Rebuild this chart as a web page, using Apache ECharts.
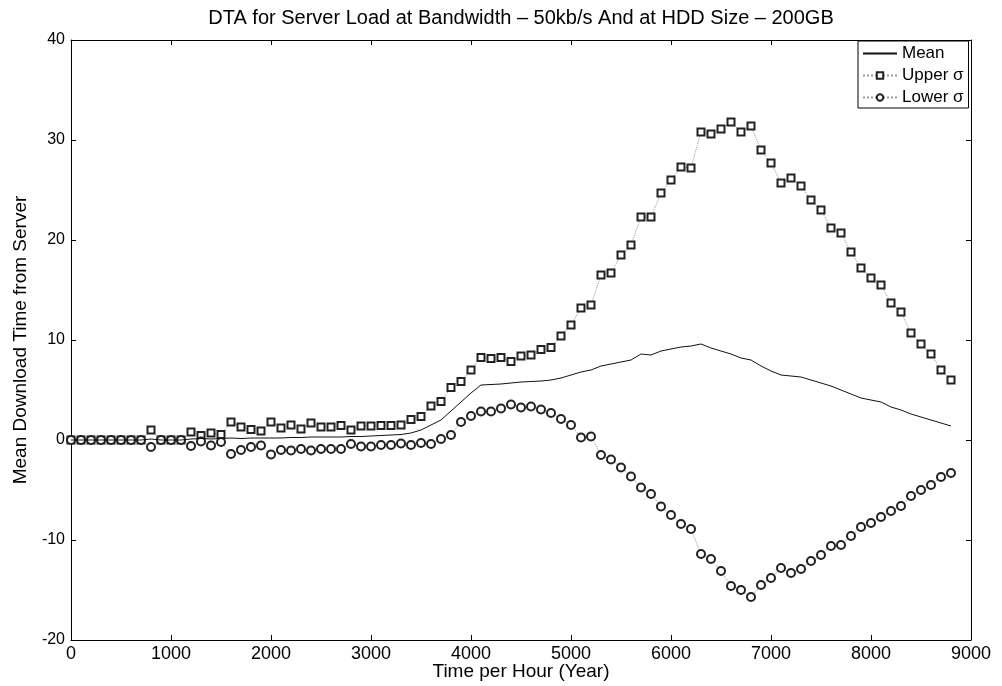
<!DOCTYPE html>
<html>
<head>
<meta charset="utf-8">
<title>DTA Server Load</title>
<script src="https://cdn.jsdelivr.net/npm/echarts@6/dist/echarts.min.js"></script>
<style>
  html, body { margin: 0; padding: 0; background: #fff; }
  #chart { width: 1002px; height: 686px; }
</style>
</head>
<body>
<div id="chart"></div>
<script>
// time axis (hours), sampled every 100 h
const hours = [
  0, 100, 200, 300, 400, 500, 600, 700, 800, 900,
  1000, 1100, 1200, 1300, 1400, 1500, 1600, 1700, 1800, 1900,
  2000, 2100, 2200, 2300, 2400, 2500, 2600, 2700, 2800, 2900,
  3000, 3100, 3200, 3300, 3400, 3500, 3600, 3700, 3800, 3900,
  4000, 4100, 4200, 4300, 4400, 4500, 4600, 4700, 4800, 4900,
  5000, 5100, 5200, 5300, 5400, 5500, 5600, 5700, 5800, 5900,
  6000, 6100, 6200, 6300, 6400, 6500, 6600, 6700, 6800, 6900,
  7000, 7100, 7200, 7300, 7400, 7500, 7600, 7700, 7800, 7900,
  8000, 8100, 8200, 8300, 8400, 8500, 8600, 8700, 8800
]

// mean download time
const meanVals = [
  0, 0, 0, 0, 0, 0, 0, 0, 0.1, 0,
  0, 0, 0.1, 0.15, 0.1, 0.15, 0.2, 0.15, 0.2, 0.2,
  0.2, 0.2, 0.25, 0.25, 0.3, 0.3, 0.3, 0.3, 0.35, 0.35,
  0.4, 0.45, 0.5, 0.55, 0.7, 1.0, 1.5, 2.0, 2.9, 3.8,
  4.7, 5.5, 5.55, 5.6, 5.7, 5.8, 5.85, 5.9, 6.0, 6.2,
  6.5, 6.8, 7.0, 7.4, 7.6, 7.8, 8.0, 8.6, 8.5, 8.9,
  9.1, 9.3, 9.4, 9.6, 9.2, 8.9, 8.6, 8.2, 8.0, 7.4,
  6.9, 6.5, 6.4, 6.3, 6.0, 5.7, 5.4, 5.0, 4.6, 4.2,
  4.0, 3.8, 3.3, 3.0, 2.6, 2.3, 2.0, 1.7, 1.4
]

// mean + sigma
const upperVals = [
  0, 0, 0, 0, 0, 0, 0, 0, 1.0, 0,
  0, 0, 0.8, 0.45, 0.7, 0.55, 1.8, 1.3, 1.05, 0.9,
  1.8, 1.2, 1.5, 1.1, 1.7, 1.3, 1.3, 1.45, 1.0, 1.4,
  1.4, 1.45, 1.45, 1.5, 2.05, 2.35, 3.4, 3.85, 5.25, 5.85,
  7.0, 8.25, 8.15, 8.25, 7.85, 8.4, 8.5, 9.05, 9.25, 10.4,
  11.5, 13.2, 13.5, 16.5, 16.7, 18.5, 19.5, 22.3, 22.3, 24.7,
  26.0, 27.3, 27.2, 30.8, 30.6, 31.1, 31.8, 30.8, 31.4, 29.0,
  27.7, 25.7, 26.2, 25.4, 24.0, 23.0, 21.2, 20.7, 18.8, 17.2,
  16.2, 15.5, 13.7, 12.8, 10.7, 9.6, 8.6, 7.0, 6.0
]

// mean - sigma
const lowerVals = [
  0, 0, 0, 0, 0, 0, 0, 0, -0.7, 0,
  0, 0, -0.6, -0.15, -0.55, -0.2, -1.4, -1.0, -0.7, -0.55,
  -1.45, -1.0, -1.05, -0.9, -1.05, -0.9, -0.9, -0.9, -0.4, -0.65,
  -0.65, -0.5, -0.5, -0.35, -0.5, -0.3, -0.4, 0.1, 0.5, 1.8,
  2.4, 2.85, 2.85, 3.15, 3.55, 3.25, 3.35, 3.05, 2.7, 2.1,
  1.5, 0.25, 0.35, -1.5, -1.95, -2.75, -3.65, -4.75, -5.4, -6.65,
  -7.5, -8.4, -8.9, -11.4, -11.9, -13.1, -14.6, -15.0, -15.7, -14.5,
  -13.8, -12.8, -13.3, -12.9, -12.1, -11.5, -10.6, -10.5, -9.6, -8.7,
  -8.3, -7.7, -7.1, -6.6, -5.6, -5.0, -4.5, -3.7, -3.3
]

const xTicks = [0, 9000, 1000]
const yTicks = [-20, 40, 10]

const font = 'Liberation Sans, Arial, Helvetica, sans-serif'
const pair = vals => hours.map((h, i) => [h, vals[i]])

const chart = echarts.init(document.getElementById('chart'), null, { renderer: 'canvas' })

// box-style axes with inward ticks on all four sides
const baseAxis = {
  type: 'value',
  axisLine: { show: true, onZero: false, lineStyle: { color: '#000', width: 1 } },
  axisTick: { show: true, inside: true, length: 5, lineStyle: { color: '#000' } },
  splitLine: { show: false }
}
const plain = v => String(v)

const option = {
  backgroundColor: '#fff',
  animation: false,
  title: {
    text: 'DTA for Server Load at Bandwidth \u2013 50kb/s And at HDD Size \u2013 200GB',
    left: 516,
    textAlign: 'center',
    top: 3,
    textStyle: { fontFamily: font, fontSize: 20, fontWeight: 'normal', color: '#000' }
  },
  grid: { left: 71, top: 40, width: 900, height: 600, containLabel: false, outerBoundsMode: 'none' },
  legend: {
    orient: 'vertical',
    left: 858,
    top: 41,
    padding: [4, 5, 2, 4],
    itemGap: 5,
    itemWidth: 34,
    itemHeight: 8,
    borderColor: '#000',
    borderWidth: 1,
    backgroundColor: '#fff',
    textStyle: { fontFamily: font, fontSize: 17, color: '#000' },
    data: [
      { name: 'Mean', itemStyle: { color: 'transparent', borderWidth: 0 } },
      'Upper \u03c3',
      'Lower \u03c3'
    ]
  },
  xAxis: [
    Object.assign({}, baseAxis, {
      position: 'bottom',
      min: xTicks[0], max: xTicks[1], interval: xTicks[2],
      name: 'Time per Hour (Year)',
      nameLocation: 'middle',
      nameGap: 22,
      nameMoveOverlap: false,
      nameTextStyle: { fontFamily: font, fontSize: 19, color: '#000' },
      axisLabel: { fontFamily: font, fontSize: 18, color: '#000', margin: 5, formatter: plain }
    }),
    Object.assign({}, baseAxis, {
      position: 'top',
      min: xTicks[0], max: xTicks[1], interval: xTicks[2],
      axisLabel: { show: false }
    })
  ],
  yAxis: [
    Object.assign({}, baseAxis, {
      position: 'left',
      min: yTicks[0], max: yTicks[1], interval: yTicks[2],
      name: 'Mean Download Time from Server',
      nameLocation: 'middle',
      nameGap: 41,
      nameMoveOverlap: false,
      nameTextStyle: { fontFamily: font, fontSize: 19, color: '#000' },
      axisLabel: { fontFamily: font, fontSize: 16, color: '#000', margin: 6, formatter: plain }
    }),
    Object.assign({}, baseAxis, {
      position: 'right',
      min: yTicks[0], max: yTicks[1], interval: yTicks[2],
      axisLabel: { show: false }
    })
  ],
  series: [
    {
      name: 'Mean',
      type: 'line',
      data: pair(meanVals),
      symbol: 'none',
      lineStyle: { color: '#111', width: 1 },
      itemStyle: { color: '#111' },
      z: 3
    },
    {
      name: 'Upper \u03c3',
      type: 'line',
      data: pair(upperVals),
      symbol: 'emptyRect',
      symbolSize: 7,
      lineStyle: { color: '#999', width: 1, type: 'dotted' },
      itemStyle: { color: '#222', borderWidth: 1.2 },
      z: 2
    },
    {
      name: 'Lower \u03c3',
      type: 'line',
      data: pair(lowerVals),
      symbol: 'emptyCircle',
      symbolSize: 8,
      lineStyle: { color: '#999', width: 1, type: 'dotted' },
      itemStyle: { color: '#222', borderWidth: 1.2 },
      z: 2
    }
  ]
}

chart.setOption(option)
</script>
</body>
</html>
